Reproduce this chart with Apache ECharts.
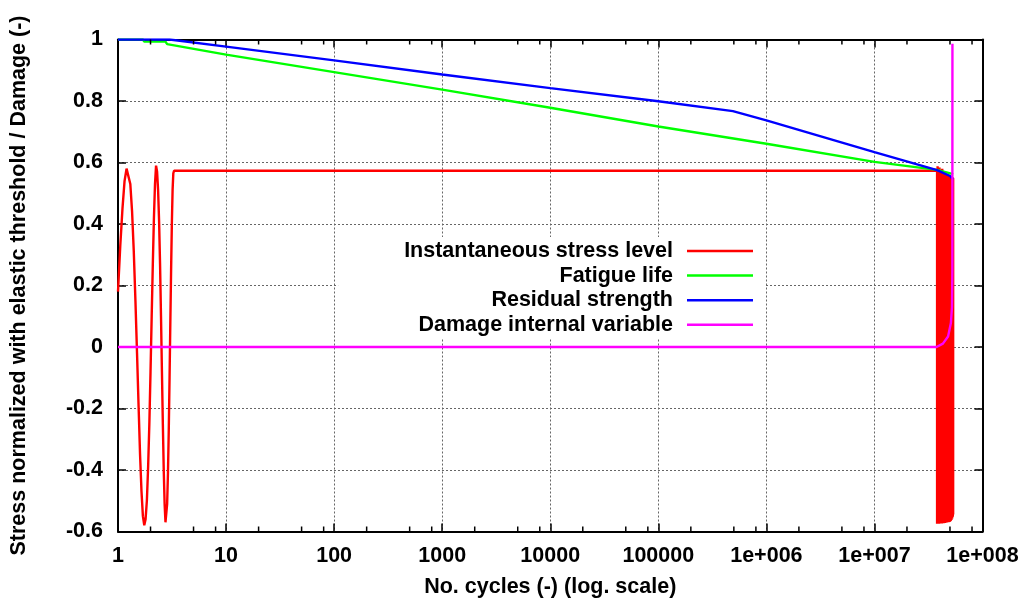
<!DOCTYPE html>
<html>
<head>
<meta charset="utf-8">
<script src="https://cdn.jsdelivr.net/npm/echarts@6/dist/echarts.min.js"></script>
<style>
html,body{margin:0;padding:0;background:#fff;}
#chart{width:1030px;height:608px;}
</style>
</head>
<body>
<div id="chart"></div>
<script>
// ---- data ----
const seriesNames = ['Instantaneous stress level', 'Fatigue life', 'Residual strength', 'Damage internal variable'];
const xTickLabels = ['1', '10', '100', '1000', '10000', '100000', '1e+006', '1e+007', '1e+008'];
const xMinorTicks = [2, 5, 8, 20, 50, 80, 200, 500, 800, 2000, 5000, 8000,
  2e4, 5e4, 8e4, 2e5, 5e5, 8e5, 2e6, 5e6, 8e6, 2e7, 5e7, 8e7];

const stressLevel = [
  [1.00, 0.18], [1.05, 0.33], [1.10, 0.45], [1.15, 0.54], [1.20, 0.58], [1.25, 0.58], [1.30, 0.53],
  [1.35, 0.44], [1.40, 0.31], [1.45, 0.15], [1.50, -0.02], [1.55, -0.19], [1.60, -0.35], [1.65, -0.47],
  [1.70, -0.55], [1.75, -0.58], [1.80, -0.56], [1.85, -0.50], [1.90, -0.39], [1.95, -0.25], [2.00, -0.08],
  [2.05, 0.10], [2.10, 0.27], [2.15, 0.42], [2.20, 0.53], [2.25, 0.59], [2.30, 0.57], [2.35, 0.51],
  [2.40, 0.41], [2.45, 0.27], [2.50, 0.10], [2.55, -0.08], [2.60, -0.25], [2.65, -0.40], [2.70, -0.51],
  [2.75, -0.57], [2.80, -0.57], [2.85, -0.51], [2.90, -0.41], [2.95, -0.27], [3.00, -0.10], [3.05, 0.08],
  [3.10, 0.25], [3.15, 0.40], [3.20, 0.51], [3.25, 0.565], [3.30, 0.573],
  [3.80e7, 0.573],
  [3.80e7, -0.575], [3.84e7, 0.588], [3.88e7, -0.575], [3.92e7, 0.572], [3.96e7, -0.575], [4.00e7, 0.584],
  [4.04e7, -0.574], [4.08e7, 0.570], [4.12e7, -0.574], [4.16e7, 0.569], [4.20e7, -0.574], [4.24e7, 0.580],
  [4.28e7, -0.573], [4.32e7, 0.567], [4.36e7, -0.573], [4.40e7, 0.566], [4.44e7, -0.572], [4.48e7, 0.565],
  [4.52e7, -0.572], [4.56e7, 0.564], [4.60e7, -0.571], [4.64e7, 0.563], [4.68e7, -0.571], [4.72e7, 0.562],
  [4.76e7, -0.570], [4.80e7, 0.561], [4.84e7, -0.570], [4.88e7, 0.560], [4.92e7, -0.569], [4.96e7, 0.559],
  [5.00e7, -0.568], [5.04e7, 0.557], [5.08e7, -0.566], [5.12e7, 0.556], [5.16e7, -0.563], [5.20e7, 0.554],
  [5.24e7, -0.558], [5.28e7, 0.552], [5.31e7, -0.552], [5.33e7, 0.550], [5.35e7, -0.545], [5.35e7, 0.549]
];

const fatigueLife = [
  [1, 1.0], [1.7, 1.0], [1.75, 0.993], [2.75, 0.993], [2.85, 0.985], [10, 0.951], [100, 0.894],
  [1000, 0.837], [1e4, 0.778], [1e5, 0.717], [1e6, 0.661], [1e7, 0.602], [3.8e7, 0.576], [5.35e7, 0.562]
];

const residualStrength = [
  [1, 1.0], [3, 1.0], [10, 0.977], [100, 0.932], [1000, 0.886], [1e4, 0.842], [1e5, 0.799],
  [4.9e5, 0.767], [1e6, 0.737], [1e7, 0.634], [3.8e7, 0.575], [5.0e7, 0.556], [5.35e7, 0.545]
];

const damageVariable = [
  [1, 0], [3.76e7, 0], [4.3e7, 0.011], [4.8e7, 0.034], [5.1e7, 0.078], [5.22e7, 0.13],
  [5.26e7, 0.25], [5.27e7, 0.986]
];

// ---- chart ----
const FONT = 'Liberation Sans';
const FS = 21.5;
const txt = { fontFamily: FONT, fontSize: FS, fontWeight: 'bold', color: '#000' };
const chart = echarts.init(document.getElementById('chart'), null, { renderer: 'canvas' });

function lineSeries(name, data, color) {
  return {
    name: name, type: 'line', data: data, xAxisIndex: 0, yAxisIndex: 0,
    showSymbol: false, symbol: 'none', sampling: null, animation: false,
    lineStyle: { color: color, width: 2.4 }, itemStyle: { color: color }
  };
}

const gridLine = { show: true, lineStyle: { color: '#666', width: 1, type: [2, 2] } };
const axisLine = { show: true, onZero: false, lineStyle: { color: '#000', width: 2 } };
const tickStyle = { show: true, inside: true, length: 8, lineStyle: { color: '#000', width: 1.5 } };

chart.setOption({
  animation: false,
  backgroundColor: '#fff',
  textStyle: { fontFamily: FONT },
  grid: { left: 117.5, right: 47.5, top: 39.5, bottom: 76.5, containLabel: false },
  legend: {
    data: seriesNames,
    orient: 'vertical',
    align: 'right',
    right: 265, top: 237,
    padding: [3, 12, 3, 66],
    backgroundColor: '#fff',
    icon: 'rect',
    itemWidth: 66, itemHeight: 2.5, itemGap: 2.6,
    textStyle: Object.assign({}, txt, { lineHeight: 21, padding: [0, 9, 0, 0] }),
    z: 10
  },
  xAxis: [{
    type: 'log', logBase: 10, min: 1, max: 1e8, position: 'bottom',
    name: 'No. cycles (-) (log. scale)', nameLocation: 'middle', nameGap: 45,
    nameTextStyle: txt,
    axisLine: axisLine, axisTick: tickStyle, splitLine: gridLine,
    axisLabel: Object.assign({}, txt, {
      margin: 14,
      formatter: function (v) { return xTickLabels[Math.round(Math.log10(v))]; }
    })
  }, {
    type: 'log', logBase: 10, min: 1, max: 1e8, position: 'top',
    axisLine: axisLine, axisTick: tickStyle, splitLine: { show: false }, axisLabel: { show: false }
  }],
  yAxis: [{
    type: 'value', min: -0.6, max: 1, interval: 0.2, position: 'left',
    name: 'Stress normalized with elastic threshold / Damage (-)', nameLocation: 'middle', nameGap: 88,
    nameTextStyle: txt,
    axisLine: axisLine, axisTick: tickStyle, splitLine: gridLine,
    axisLabel: Object.assign({}, txt, { margin: 15 })
  }, {
    type: 'value', min: -0.6, max: 1, interval: 0.2, position: 'right',
    axisLine: axisLine, axisTick: tickStyle, splitLine: { show: false }, axisLabel: { show: false }
  }],
  series: [
    lineSeries(seriesNames[0], stressLevel, '#ff0000'),
    lineSeries(seriesNames[1], fatigueLife, '#00ff00'),
    lineSeries(seriesNames[2], residualStrength, '#0000ff'),
    lineSeries(seriesNames[3], damageVariable, '#ff00ff'),
    {
      name: 'minorTicks', type: 'custom', xAxisIndex: 0, yAxisIndex: 0,
      data: xMinorTicks.map(function (v) { return [v, 0]; }),
      encode: { x: 0, y: 1 }, silent: true, clip: false, z: 5,
      renderItem: function (params, api) {
        const cs = params.coordSys;
        const x = api.coord([api.value(0), 0])[0];
        const b = cs.y + cs.height;
        const st = { stroke: '#000', lineWidth: 1.5 };
        return {
          type: 'group', children: [
            { type: 'line', shape: { x1: x, y1: b, x2: x, y2: b - 5 }, style: st },
            { type: 'line', shape: { x1: x, y1: cs.y, x2: x, y2: cs.y + 5 }, style: st }
          ]
        };
      }
    }
  ]
});
</script>
</body>
</html>
